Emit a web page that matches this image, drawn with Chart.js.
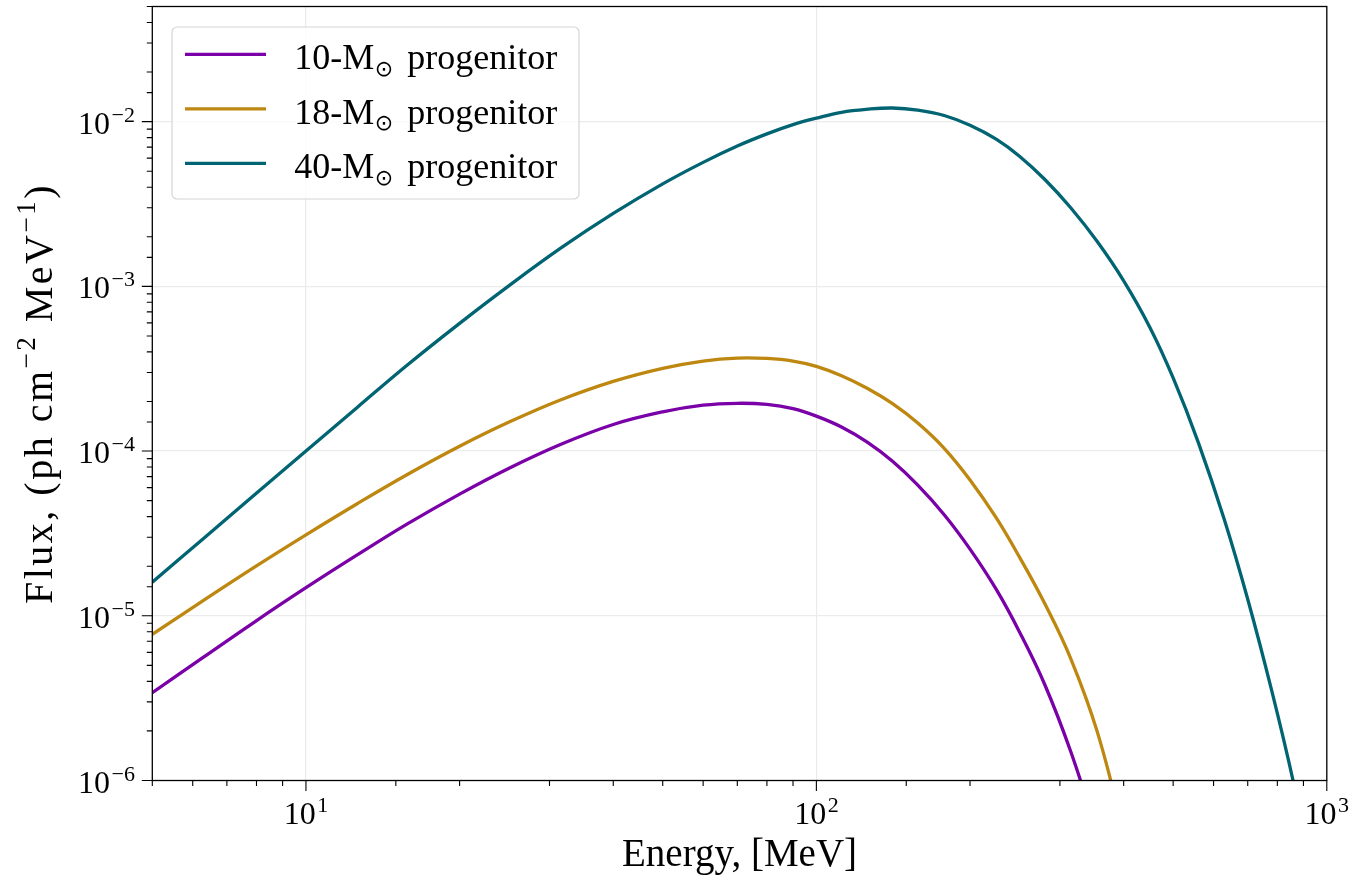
<!DOCTYPE html>
<html>
<head>
<meta charset="utf-8">
<script src="https://cdn.jsdelivr.net/npm/chart.js@4.4.1/dist/chart.umd.min.js"></script>
<style>
  html, body { margin: 0; padding: 0; background: #ffffff; }
  canvas { display: block; }
</style>
</head>
<body>
<canvas id="c" width="1355" height="881"></canvas>
<script>
// ---------------- data ----------------
const energyMeV = [5, 6.3, 7.9, 10, 12.6, 15.8, 20, 25, 31.6, 40, 50, 60, 70, 80, 90, 100, 112, 126, 141, 158, 178, 200, 225, 250, 280, 315, 355, 400, 450, 500, 560, 630, 700, 780, 860, 950];

const flux10Msun = [3.41e-6, 5.61e-6, 9.1e-6, 1.48e-5, 2.34e-5, 3.61e-5, 5.48e-5, 7.87e-5, 1.10e-4, 1.45e-4, 1.73e-4, 1.90e-4, 1.95e-4, 1.92e-4, 1.81e-4, 1.63e-4, 1.40e-4, 1.13e-4, 8.67e-5, 6.21e-5, 4.11e-5, 2.54e-5, 1.45e-5, 7.98e-6, 3.84e-6, 1.50e-6, 4.8e-7,
  null, null, null, null, null, null, null, null, null];

const flux18Msun = [7.71e-6, 1.24e-5, 1.96e-5, 3.10e-5, 4.79e-5, 7.21e-5, 1.07e-4, 1.50e-4, 2.05e-4, 2.65e-4, 3.18e-4, 3.52e-4, 3.67e-4, 3.65e-4, 3.52e-4, 3.27e-4, 2.87e-4, 2.40e-4, 1.94e-4, 1.48e-4, 1.04e-4, 6.68e-5, 3.94e-5, 2.27e-5, 1.19e-5, 5.5e-6, 1.98e-6, 4.9e-7,
  null, null, null, null, null, null, null, null];

const flux40Msun = [1.60e-5, 2.95e-5, 5.38e-5, 1.0e-4, 1.84e-4, 3.33e-4, 5.96e-4, 1.01e-3, 1.71e-3, 2.77e-3, 4.19e-3, 5.66e-3, 7.11e-3, 8.43e-3, 9.59e-3, 1.05e-2, 1.14e-2, 1.19e-2, 1.21e-2, 1.175e-2, 1.09e-2, 9.51e-3, 7.83e-3, 6.17e-3, 4.47e-3, 3.0e-3, 1.87e-3, 1.08e-3, 5.65e-4, 2.78e-4, 1.13e-4, 3.83e-5, 1.26e-5, 3.51e-6, 9.8e-7, 2.2e-7];

const seriesLabels = ['10-M⊙ progenitor', '18-M⊙ progenitor', '40-M⊙ progenitor'];
const xMajorTicks = [1e1, 1e2, 1e3];
const yMajorTicks = [1e-6, 1e-5, 1e-4, 1e-3, 1e-2];
const xRange = [5, 1000];
const yRange = [1e-6, 0.05];
const xTitle = 'Energy, [MeV]';
const yTitleParts = [['Flux, (ph cm', 0], ['−2', 1], [' MeV', 0], ['−1', 1], [')', 0]];

// ---------------- styles ----------------
const seriesColors = ['#7a00a8', '#bd8710', '#006472'];
const SERIF = "'Liberation Serif', 'DejaVu Serif', serif";

function isMajor(v) { const l = Math.log10(v); return Math.abs(l - Math.round(l)) < 1e-9; }
function inList(v, list) { return list.some(t => Math.abs(Math.log10(t) - Math.log10(v)) < 1e-9); }
function expText(v) { const n = Math.round(Math.log10(v)); return (n < 0 ? '−' : '') + Math.abs(n); }

function drawPow(ctx, v, x, y, align) {
  const base = '10', sup = expText(v);
  ctx.font = '32px ' + SERIF; const wb = ctx.measureText(base).width;
  ctx.font = '22px ' + SERIF; const ws = ctx.measureText(sup).width;
  const gap = 1.5, total = wb + gap + ws;
  const x0 = align === 'right' ? x - total : (align === 'center' ? x - total / 2 : x);
  ctx.textAlign = 'left'; ctx.textBaseline = 'alphabetic';
  ctx.font = '32px ' + SERIF; ctx.fillText(base, x0, y);
  ctx.font = '22px ' + SERIF; ctx.fillText(sup, x0 + wb + gap, y - 12);
}

const decoPlugin = {
  id: 'deco',
  afterDatasetsDraw(chart) {
    const ctx = chart.ctx, a = chart.chartArea, xs = chart.scales.x, ys = chart.scales.y;
    ctx.save();
    ctx.fillStyle = '#000'; ctx.strokeStyle = '#000';

    // frame
    ctx.lineWidth = 1.3;
    ctx.strokeRect(a.left, a.top, a.right - a.left, a.bottom - a.top);

    // tick marks
    ctx.lineWidth = 1.1;
    ctx.beginPath();
    xs.ticks.forEach(t => {
      const px = xs.getPixelForValue(t.value);
      if (px < a.left - 0.5 || px > a.right + 0.5) return;
      const L = isMajor(t.value) ? 10.5 : 5.5;
      ctx.moveTo(px, a.bottom); ctx.lineTo(px, a.bottom + L);
    });
    ys.ticks.forEach(t => {
      const py = ys.getPixelForValue(t.value);
      if (py < a.top - 0.5 || py > a.bottom + 0.5) return;
      const L = isMajor(t.value) ? 10.5 : 5.5;
      ctx.moveTo(a.left, py); ctx.lineTo(a.left - L, py);
    });
    ctx.stroke();

    // tick labels
    xs.ticks.forEach(t => {
      if (!inList(t.value, xMajorTicks)) return;
      drawPow(ctx, t.value, xs.getPixelForValue(t.value), a.bottom + 43, 'center');
    });
    ys.ticks.forEach(t => {
      if (!inList(t.value, yMajorTicks)) return;
      drawPow(ctx, t.value, 135, ys.getPixelForValue(t.value) + 12, 'right');
    });

    // x title
    ctx.font = '39px ' + SERIF; ctx.textAlign = 'center'; ctx.textBaseline = 'alphabetic';
    ctx.fillText(xTitle, (a.left + a.right) / 2, 866);

    // y title (rotated, with superscripts)
    ctx.save();
    ctx.translate(52, (a.top + a.bottom) / 2);
    ctx.rotate(-Math.PI / 2);
    try { ctx.letterSpacing = '2.5px'; } catch (e) {}
    ctx.textAlign = 'left';
    let total = 0;
    const widths = yTitleParts.map(p => {
      ctx.font = (p[1] ? '27px ' : '40px ') + SERIF;
      const w = ctx.measureText(p[0]).width; total += w; return w;
    });
    let cx = -total / 2;
    yTitleParts.forEach((p, i) => {
      ctx.font = (p[1] ? '27px ' : '40px ') + SERIF;
      ctx.fillText(p[0], cx, p[1] ? -17 : 0);
      cx += widths[i];
    });
    try { ctx.letterSpacing = '0px'; } catch (e) {}
    ctx.restore();

    // legend
    const bx = 172, by = 27, bw = 407, bh = 172, r = 5;
    ctx.beginPath();
    ctx.moveTo(bx + r, by); ctx.lineTo(bx + bw - r, by); ctx.arcTo(bx + bw, by, bx + bw, by + r, r);
    ctx.lineTo(bx + bw, by + bh - r); ctx.arcTo(bx + bw, by + bh, bx + bw - r, by + bh, r);
    ctx.lineTo(bx + r, by + bh); ctx.arcTo(bx, by + bh, bx, by + bh - r, r);
    ctx.lineTo(bx, by + r); ctx.arcTo(bx, by, bx + r, by, r);
    ctx.closePath();
    ctx.fillStyle = 'rgba(255,255,255,0.8)'; ctx.fill();
    ctx.strokeStyle = '#d6d6d6'; ctx.lineWidth = 1.2; ctx.stroke();

    chart.data.datasets.forEach((ds, i) => {
      const ly = 54.3 + i * 54.5;
      ctx.strokeStyle = ds.borderColor; ctx.lineWidth = 3.3;
      ctx.beginPath(); ctx.moveTo(185, ly); ctx.lineTo(266, ly); ctx.stroke();
      const parts = ds.label.split('⊙');
      const base = ly + 15;
      ctx.fillStyle = '#000'; ctx.textAlign = 'left'; ctx.textBaseline = 'alphabetic';
      ctx.font = '36px ' + SERIF;
      ctx.fillText(parts[0], 294.3, base);
      const xm = 294.3 + ctx.measureText(parts[0]).width;
      ctx.font = '22px "DejaVu Sans"';
      const m = ctx.measureText('⊙');
      const asc = m.actualBoundingBoxAscent || 15, desc = m.actualBoundingBoxDescent || 2;
      const centerY = base - 0.5;
      ctx.fillText('⊙', xm + 0.5, centerY + (asc - desc) / 2);
      ctx.font = '36px ' + SERIF;
      ctx.fillText(parts[1].trim(), xm + 33, base);
    });

    ctx.restore();
  }
};

const datasets = [flux10Msun, flux18Msun, flux40Msun].map((arr, i) => ({
  label: seriesLabels[i],
  data: energyMeV.map((e, j) => ({ x: e, y: arr[j] })),
  borderColor: seriesColors[i],
  backgroundColor: seriesColors[i],
  borderWidth: 3.3,
  pointRadius: 0,
  fill: false,
  tension: 0.4,
  clip: 0,
  spanGaps: false
}));

const gridColor = c => (c.tick && isMajor(c.tick.value)) ? '#ebebeb' : 'rgba(0,0,0,0)';

new Chart(document.getElementById('c'), {
  type: 'line',
  data: { datasets },
  options: {
    responsive: false,
    animation: false,
    devicePixelRatio: 1,
    layout: { padding: { left: 0, top: 6.5, right: 28.2, bottom: 0 } },
    plugins: { legend: { display: false }, tooltip: { enabled: false } },
    scales: {
      x: {
        type: 'logarithmic', position: 'bottom', min: xRange[0], max: xRange[1],
        grid: { color: gridColor, lineWidth: 1.2, drawTicks: false },
        border: { display: false },
        ticks: { display: false, autoSkip: false },
        afterFit(s) { s.height = 100.5; }
      },
      y: {
        type: 'logarithmic', position: 'left', min: yRange[0], max: yRange[1],
        grid: { color: gridColor, lineWidth: 1.2, drawTicks: false },
        border: { display: false },
        ticks: { display: false, autoSkip: false },
        afterFit(s) { s.width = 152.3; }
      }
    }
  },
  plugins: [decoPlugin]
});
</script>
</body>
</html>
